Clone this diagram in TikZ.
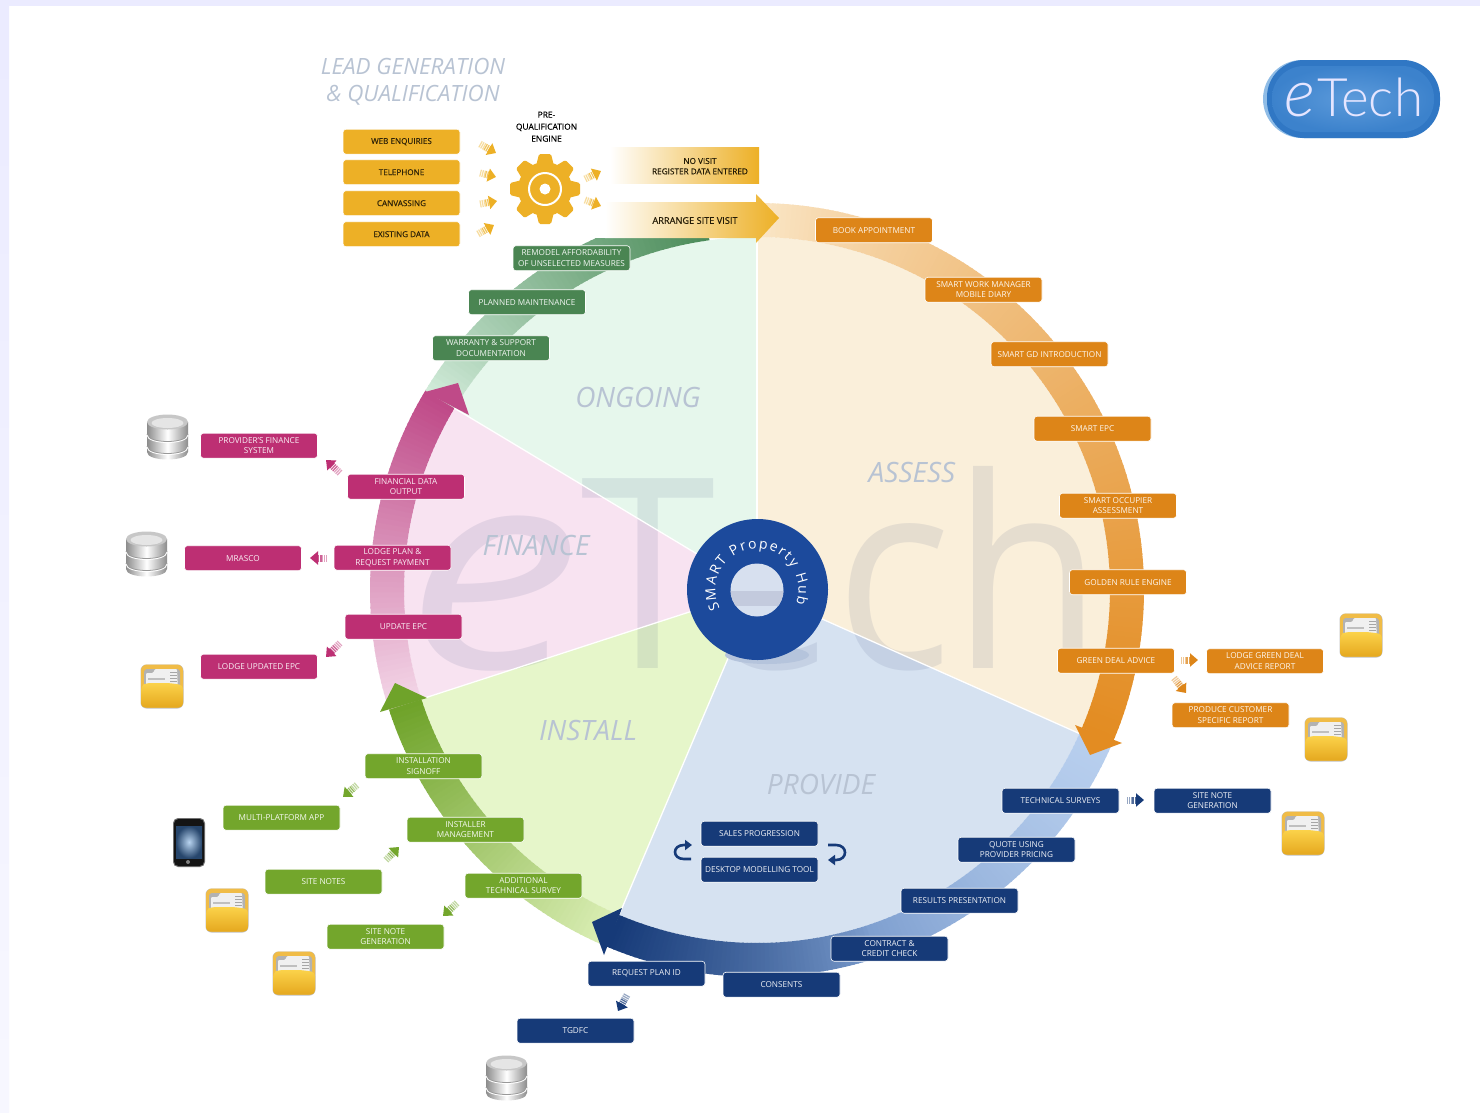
\documentclass[tikz,border=0pt]{standalone}
\usepackage{fontspec}
\setmainfont{Open Sans}
\newfontfamily\lightf{Lato Light}
\usetikzlibrary{arrows.meta,calc,decorations.text}
\definecolor{cgold}{HTML}{EDB026}
\definecolor{corange}{HTML}{DD8518}
\definecolor{cblue}{HTML}{163A78}
\definecolor{cgreen}{HTML}{73A62C}
\definecolor{cpink}{HTML}{BD2F73}
\definecolor{cdgreen}{HTML}{4A8552}
\definecolor{ctitle}{HTML}{B8C3D3}
\definecolor{cwater}{HTML}{3C4C7C}
\definecolor{sassess}{HTML}{FAEFDA}
\definecolor{sprovide}{HTML}{D6E2F1}
\definecolor{sinstall}{HTML}{E6F6CA}
\definecolor{sfinance}{HTML}{F8E3F1}
\definecolor{songoing}{HTML}{E6F7EC}
\definecolor{hub}{HTML}{1C4A9C}
\definecolor{hubshadow}{HTML}{B5C4DC}
\definecolor{ringo}{HTML}{E38C22}
\definecolor{ringopale}{HTML}{FBE9CC}
\definecolor{ringb}{HTML}{163A78}
\definecolor{ringbmid}{HTML}{7FA0D0}
\definecolor{ringbpale}{HTML}{B8CFEE}
\definecolor{ringg}{HTML}{6FA32A}
\definecolor{ringgpale}{HTML}{DDF0B8}
\definecolor{ringp}{HTML}{BF4A88}
\definecolor{ringppale}{HTML}{F4D8E9}
\definecolor{ringd}{HTML}{4C8C5A}
\definecolor{ringdpale}{HTML}{D5EEDD}
\definecolor{holea}{HTML}{D7E0EF}
\definecolor{holeb}{HTML}{C3CADD}
\definecolor{scrin}{HTML}{B8D4F0}
\definecolor{scrout}{HTML}{27466C}
\definecolor{logoa}{HTML}{8FBCE6}
\definecolor{logob}{HTML}{3077C4}
\definecolor{logoc}{HTML}{5D9BDB}
\definecolor{logod}{HTML}{3C82CC}
\definecolor{foldtop}{HTML}{FBD24A}
\definecolor{foldbot}{HTML}{E5A81F}
\tikzset{
  x=1pt,y=-1pt,
  bx/.style={rounded corners=3pt,minimum width=117pt,minimum height=25pt,inner sep=0pt,
    fill=#1,draw=white,line width=.6pt,text=white!93!#1,align=center,xshift=.5pt,yshift=-.7pt,
    font=\fontsize{8.2}{10.4}\selectfont},
  goldbx/.style={bx=cgold,text=black!80!cgold,font=\fontsize{8.1}{10.4}\selectfont\addfontfeature{FakeBold=.4}},
  sectitle/.style={text=ctitle,inner sep=0pt,font=\fontsize{28}{28}\selectfont\itshape},
  leadtitle/.style={text=ctitle,inner sep=0pt,align=center,font=\fontsize{22.4}{27}\selectfont\itshape},
  darktext/.style={inner sep=0pt,align=center,text=black!85!cgold},
  turn/.style={cblue,line width=2.6pt,-{Triangle[length=7pt,width=10pt]}}
}
% ring coloured step by step: start, end, steps, colour, base, pct0, pct1, power
\newcommand\gradring[8]{%
  \foreach \i in {0,...,#3}{%
    \pgfmathsetmacro\ta{#1+(#2-(#1))*(\i/(#3+1))}%
    \pgfmathsetmacro\tb{#1+(#2-(#1))*((\i+1.3)/(#3+1))}%
    \pgfmathsetmacro\tp{#6+(#7-#6)*exp(#8*ln((\i+1)/(#3+1)))}%
    \fill[#4!\tp!#5] ({757+387*cos(\ta)},{590-387*sin(\ta)}) -- ({757+387*cos(\tb)},{590-387*sin(\tb)})
       -- ({757+353*cos(\tb)},{590-353*sin(\tb)}) -- ({757+353*cos(\ta)},{590-353*sin(\ta)}) -- cycle;
  }}
\newcommand\piewedge[3]{% from, to, colour
  \fill[#3] (757,590) -- plot[domain=#1:#2,samples=60] ({757+353*cos(\x)},{590-353*sin(\x)}) -- cycle;}
\newcommand\sarrow[3]{%
  \draw[#3!45!white,line width=7pt,dash pattern=on 1.2pt off .9pt] (#1) -- ($(#1)!.32!(#2)$);
  \draw[#3!75!white,line width=7pt,dash pattern=on 1.2pt off .9pt] ($(#1)!.32!(#2)$) -- ($(#1)!.58!(#2)$);
  \draw[#3,line width=7pt,-{Triangle[length=8pt,width=13pt]}] ($(#1)!.56!(#2)$) -- (#2);}
\newcommand\dbicon[2]{%
  \begin{scope}[shift={(#1,#2)}]
    \shade[left color=black!45,right color=black!45,middle color=white]
      (-20.5,-15) -- (-20.5,15) .. controls (-20.5,25) and (20.5,25) .. (20.5,15) -- (20.5,-15) -- cycle;
    \draw[black!40,line width=.8pt] (-20.5,-3) .. controls (-20.5,7) and (20.5,7) .. (20.5,-3);
    \draw[black!40,line width=.8pt] (-20.5,9) .. controls (-20.5,19) and (20.5,19) .. (20.5,9);
    \draw[white,line width=.8pt] (-20.5,-2) .. controls (-20.5,8) and (20.5,8) .. (20.5,-2);
    \draw[white,line width=.8pt] (-20.5,10) .. controls (-20.5,20) and (20.5,20) .. (20.5,10);
    \fill[black!22] (0,-15) ellipse [x radius=20.5,y radius=7.5];
    \fill[black!10] (0,-14) ellipse [x radius=16,y radius=5];
  \end{scope}}
\newcommand\foldericon[2]{%
  \begin{scope}[shift={(#1,#2)}]
    \fill[rounded corners=6pt,black!25] (-21.5,-21.5) rectangle (21.5,22.5);
    \fill[rounded corners=6pt,cgold!85!white] (-21,-21.5) rectangle (21,21.5);
    \fill[rounded corners=3pt,black!30] (-18,-17) rectangle (18,8);
    \fill[black!6,rounded corners=1pt] (-16,-13) -- (-9,-13) -- (-7,-17) -- (15,-17) -- (16,6) -- (-16,6) -- cycle;
    \foreach \yy in {-14,-11,-8,-5}{\fill[black!35] (8,\yy) rectangle (15,\yy+1);}
    \fill[black!25] (-14,-8) rectangle (3,-6);
    \shade[top color=foldtop,bottom color=foldbot,rounded corners=4pt]
      (-21,0) -- (-16,-3) -- (-5,-3) -- (7,-3) -- (21,-1) -- (21,21.5) -- (-21,21.5) -- cycle;
  \end{scope}}
\begin{document}
\begin{tikzpicture}
\useasboundingbox (0,0) rectangle (1480,1112);
% page
\fill[white] (0,0) rectangle (1480,1112);
\fill[blue!8!white] (0,0) rectangle (1480,6);
\shade[top color=blue!8!white,bottom color=blue!3!white] (0,0) rectangle (9,1112);
% sectors
\piewedge{-24}{90}{sassess}
\piewedge{-113}{-24}{sprovide}
\piewedge{198}{247}{sinstall}
\piewedge{149}{198}{sfinance}
\piewedge{90}{149}{songoing}
% rings
\gradring{90}{-23}{150}{ringo}{ringopale}{0}{100}{.75}
\gradring{-23}{-72}{60}{ringbmid}{ringbpale}{0}{100}{1.4}
\gradring{-72}{-113}{60}{ringb}{ringbmid}{0}{100}{.8}
\gradring{247}{198}{60}{ringg}{ringgpale}{0}{100}{1}
\gradring{198}{149}{60}{ringp}{ringppale}{0}{100}{1}
\begin{scope}
  \clip (380,238) rectangle (757,700);
  \gradring{149}{98}{60}{ringd}{ringdpale}{0}{100}{.85}
\end{scope}
% watermark
\node[text=cwater,text opacity=.11,inner sep=0pt,anchor=base west] (wmt) at (580,668)
  {\scalebox{.92}[1]{\fontsize{266}{266}\selectfont Tech}};
\node[text=cwater,text opacity=.11,inner sep=0pt,anchor=base west] (wme) at (405,668)
  {\scalebox{1.26}[1]{\itshape\fontsize{280}{280}\selectfont e}};
% sector separators
\foreach \a in {-24,-113,198,149,90}{
  \draw[white,line width=1.3pt] (757,590) -- ({757+353*cos(\a)},{590-353*sin(\a)});}
% arrow heads
\fill[ringo] (1075,725) -- (1090,755) -- (1122,743) -- cycle;
\fill[ringb] (622,908) -- (592,922) -- (604,955) -- cycle;
\fill[ringg] (427,698) -- (395,683) -- (380,712) -- cycle;
\fill[ringp] (469,415) -- (458,383) -- (425,392) -- cycle;
% hub
\fill[hubshadow] (767,655) ellipse [x radius=42,y radius=9];
\fill[hub] (757.5,589.5) circle [radius=70.5];
\begin{scope}
  \clip (757,590) circle [radius=26.5];
  \fill[holea] (725,555) rectangle (790,625);
  \fill[holeb] (725,591) rectangle (790,606);
\end{scope}
\path[decorate,decoration={text along path,text align={fit to path},
    text={|\fontsize{14}{14}\selectfont\color{white}|SMART Property Hub}}]
  plot[domain=207:-20,samples=80] ({757+41.5*cos(\x)},{590-41.5*sin(\x)});
% section titles
\node[sectitle] (tassess) at (912,472) {ASSESS};
\node[sectitle] (tongoing) at (638,397) {ONGOING};
\node[sectitle] (tfinance) at (536,545) {FINANCE};
\node[sectitle] (tinstall) at (588,730) {INSTALL};
\node[sectitle] (tprovide) at (821,784) {PROVIDE};
\node[leadtitle] (tlead) at (413,81.5) {LEAD GENERATION\\\& QUALIFICATION};
% lead generation
\node[goldbx] (web) at (401,141) {WEB ENQUIRIES};
\node[goldbx] (tel) at (401,171.5) {TELEPHONE};
\node[goldbx] (can) at (401,202.5) {CANVASSING};
\node[goldbx] (exi) at (401,233.5) {EXISTING DATA};
\node[darktext,font=\fontsize{8.4}{12}\selectfont\addfontfeature{FakeBold=.4},text=black] (pre) at (546.5,126.7) {PRE-\\QUALIFICATION\\ENGINE};
% gear
\fill[cgold] (545,189) circle [radius=27];
\foreach \a in {0,45,...,315}{
  \fill[cgold,rotate around={\a:(545,189)},rounded corners=1.5pt]
     (539,154) -- (551,154) -- (555,170) -- (535,170) -- cycle;}
\draw[white,line width=2pt] (545,189) circle [radius=16];
\fill[white] (545,189) circle [radius=5.5];
% bands
\shade[left color=white,middle color=cgold!50!white,right color=cgold] (610,147) rectangle (759,183);
\shade[left color=white,middle color=cgold!45!white,right color=cgold]
  (605,202) -- (756,202) -- (756,194) -- (779,218) -- (756,243) -- (756,238) -- (605,238) -- cycle;
\node[darktext,font=\fontsize{8.2}{10.4}\selectfont\addfontfeature{FakeBold=.4}] (novisit) at (700,166.2) {NO VISIT\\REGISTER DATA ENTERED};
\node[darktext,font=\fontsize{9.2}{11}\selectfont\addfontfeature{FakeBold=.4}] (arrange) at (695,220.5) {ARRANGE SITE VISIT};
% ongoing
\node[bx=cdgreen] (rem) at (571,257.5) {REMODEL AFFORDABILITY\\OF UNSELECTED MEASURES};
\node[bx=cdgreen] (pla) at (526.5,301.5) {PLANNED MAINTENANCE};
\node[bx=cdgreen] (war) at (490.5,347.5) {WARRANTY \& SUPPORT\\DOCUMENTATION};
% assess
\node[bx=corange] (boo) at (873.5,229.5) {BOOK APPOINTMENT};
\node[bx=corange] (swm) at (983,289) {SMART WORK MANAGER\\MOBILE DIARY};
\node[bx=corange] (sgd) at (1049,353.5) {SMART GD INTRODUCTION};
\node[bx=corange] (epc) at (1092,428) {SMART EPC};
\node[bx=corange] (occ) at (1117.5,505) {SMART OCCUPIER\\ASSESSMENT};
\node[bx=corange] (gol) at (1127.5,581.5) {GOLDEN RULE ENGINE};
\node[bx=corange] (gda) at (1115.5,660) {GREEN DEAL ADVICE};
\node[bx=corange] (lgd) at (1264.5,660.5) {LODGE GREEN DEAL\\ADVICE REPORT};
\node[bx=corange] (pro) at (1230,714.5) {PRODUCE CUSTOMER\\SPECIFIC REPORT};
% provide
\node[bx=cblue] (tec) at (1060,800) {TECHNICAL SURVEYS};
\node[bx=cblue] (sng) at (1212,800) {SITE NOTE\\GENERATION};
\node[bx=cblue] (quo) at (1016,849) {QUOTE USING\\PROVIDER PRICING};
\node[bx=cblue] (res) at (959,900) {RESULTS PRESENTATION};
\node[bx=cblue] (con) at (889,948) {CONTRACT \&\\CREDIT CHECK};
\node[bx=cblue] (cns) at (781,984) {CONSENTS};
\node[bx=cblue] (req) at (646,973) {REQUEST PLAN ID};
\node[bx=cblue] (tgd) at (575,1030) {TGDFC};
\node[bx=cblue] (sal) at (759,833) {SALES PROGRESSION};
\node[bx=cblue] (des) at (759,869) {DESKTOP MODELLING TOOL};
% install
\node[bx=cgreen] (ins) at (423,765.5) {INSTALLATION\\SIGNOFF};
\node[bx=cgreen] (mul) at (281,817) {MULTI-PLATFORM APP};
\node[bx=cgreen] (ima) at (465,829) {INSTALLER\\MANAGEMENT};
\node[bx=cgreen] (sno) at (323,881) {SITE NOTES};
\node[bx=cgreen] (add) at (523,885) {ADDITIONAL\\TECHNICAL SURVEY};
\node[bx=cgreen] (sgn) at (385,936) {SITE NOTE\\GENERATION};
% finance
\node[bx=cpink] (prv) at (258.5,445) {PROVIDER'S FINANCE\\SYSTEM};
\node[bx=cpink] (fin) at (405.5,486) {FINANCIAL DATA\\OUTPUT};
\node[bx=cpink] (lpl) at (392,557) {LODGE PLAN \&\\REQUEST PAYMENT};
\node[bx=cpink] (mra) at (242.5,557.5) {MRASCO};
\node[bx=cpink] (upd) at (403,626) {UPDATE EPC};
\node[bx=cpink] (lup) at (258.5,666) {LODGE UPDATED EPC};
% striped arrows
\coordinate (a1s) at (480,144); \coordinate (a1e) at (496,153);
\coordinate (a2s) at (480,173); \coordinate (a2e) at (496,177);
\coordinate (a3s) at (480,204); \coordinate (a3e) at (497,201);
\coordinate (a4s) at (478,234); \coordinate (a4e) at (494,225);
\coordinate (a5s) at (585,179); \coordinate (a5e) at (601,171);
\coordinate (a6s) at (585,200); \coordinate (a6e) at (601,206);
\coordinate (p1s) at (340,473); \coordinate (p1e) at (326,460);
\coordinate (p2s) at (327,558); \coordinate (p2e) at (310,558);
\coordinate (p3s) at (340,643); \coordinate (p3e) at (326,657);
\coordinate (o1s) at (1181,660); \coordinate (o1e) at (1198,660);
\coordinate (o2s) at (1174,678); \coordinate (o2e) at (1186,693);
\coordinate (b1s) at (1127,800); \coordinate (b1e) at (1144,800);
\coordinate (b2s) at (627,995); \coordinate (b2e) at (618,1011);
\coordinate (g1s) at (357,785); \coordinate (g1e) at (343,797);
\coordinate (g2s) at (386,860); \coordinate (g2e) at (399,847);
\coordinate (g3s) at (457,903); \coordinate (g3e) at (443,916);
\sarrow{a1s}{a1e}{cgold}\sarrow{a2s}{a2e}{cgold}\sarrow{a3s}{a3e}{cgold}
\sarrow{a4s}{a4e}{cgold}\sarrow{a5s}{a5e}{cgold}\sarrow{a6s}{a6e}{cgold}
\sarrow{p1s}{p1e}{cpink}\sarrow{p2s}{p2e}{cpink}\sarrow{p3s}{p3e}{cpink}
\sarrow{o1s}{o1e}{corange}\sarrow{o2s}{o2e}{corange}
\sarrow{b1s}{b1e}{cblue}\sarrow{b2s}{b2e}{cblue}
\sarrow{g1s}{g1e}{cgreen}\sarrow{g2s}{g2e}{cgreen}\sarrow{g3s}{g3e}{cgreen}
% looping arrows beside the desktop boxes
\coordinate (l1s) at (691,859); \coordinate (l1e) at (692,845);
\coordinate (l2s) at (828,845); \coordinate (l2e) at (828,860);
\draw[turn] (l1s) -- (684,859) .. controls (672,859) and (672,845) .. (684,845) -- (l1e);
\draw[turn] (l2s) -- (836,845) .. controls (848,845) and (848,860) .. (836,860) -- (l2e);
% icons
\dbicon{167.5}{437}
\dbicon{146.5}{554}
\dbicon{506.5}{1078}
\foldericon{162}{686}
\foldericon{1361}{635}
\foldericon{1326}{739}
\foldericon{1303}{833}
\foldericon{227}{910}
\foldericon{294}{973}
% phone
\fill[rounded corners=5pt,black!55] (173,818) rectangle (205,867);
\fill[rounded corners=4.5pt,black!92] (174,819) rectangle (204,866);
\shade[inner color=scrin,outer color=scrout] (176,826) rectangle (202,858);
\fill[black!50] (188,862) circle [radius=2];
% logo
\fill[rounded corners=39pt,logoa] (1263,60) rectangle (1440,138);
\fill[rounded corners=37pt,logob] (1267,60) rectangle (1440,138);
\shade[rounded corners=32pt,inner color=logoc,outer color=logod] (1272,66) rectangle (1434,132);
\node[text=white!90!blue,inner sep=0pt,anchor=base west] (logoe) at (1284,116)
  {\lightf\itshape\fontsize{66}{66}\selectfont e};
\node[text=white!90!blue,inner sep=0pt,anchor=base west] (logot) at (1317,116)
  {\lightf\fontsize{53}{53}\selectfont Tech};
\end{tikzpicture}
\end{document}
